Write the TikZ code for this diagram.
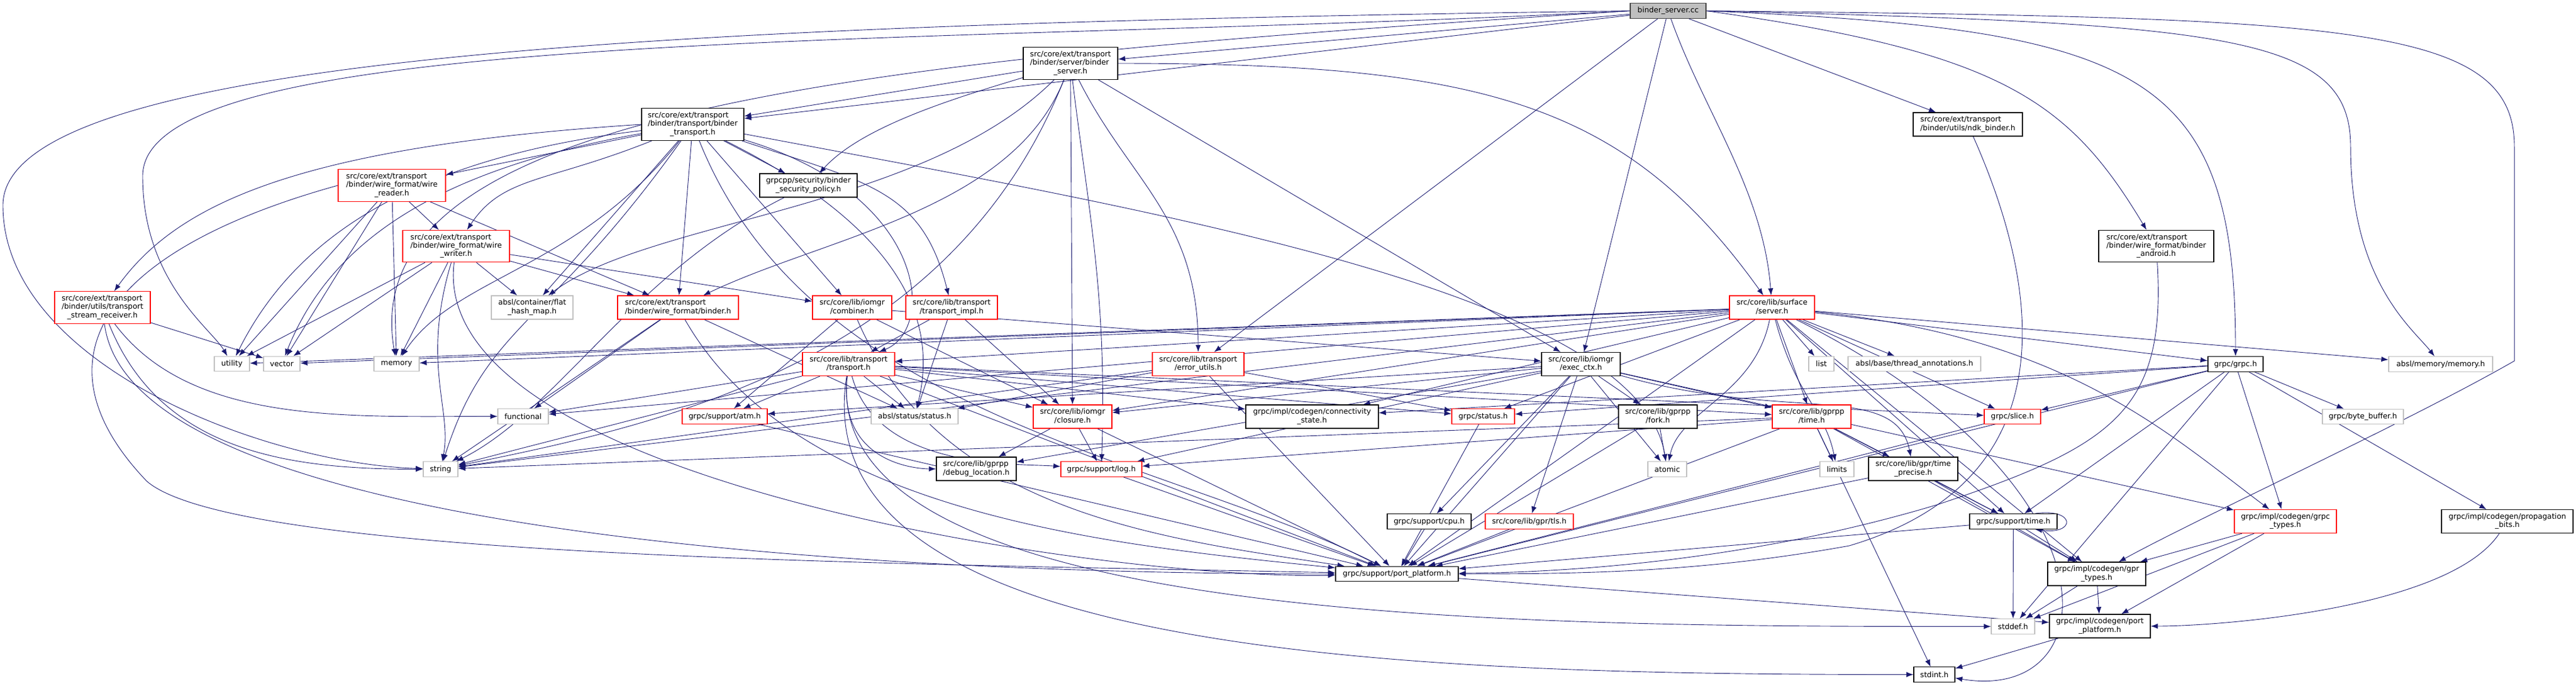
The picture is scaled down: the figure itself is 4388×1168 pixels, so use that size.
\documentclass[tikz,border=0pt]{standalone}
\usepackage{fontspec}
\setmainfont{DejaVu Sans}
\usepackage{tikz}
\usetikzlibrary{arrows.meta, backgrounds}
\definecolor{incBlue}{HTML}{191970}
\definecolor{truncRed}{HTML}{FF0000}
\definecolor{sysGray}{HTML}{BFBFBF}
\definecolor{rootGray}{HTML}{404040}
\newcommand{\hdr}[2]{\begin{tabular}{@{}l@{}}#1\\\multicolumn{1}{@{}c@{}}{#2}\end{tabular}}
\tikzset{
  hfile/.style={draw=black, line width=1.3pt, fill=white, inner sep=0pt, font=\fontsize{12.7}{14.3}\selectfont},
  hred/.style={hfile, draw=truncRed},
  hsys/.style={hfile, draw=sysGray},
  one/.style={minimum height=25.5pt},
  two/.style={minimum height=40pt},
  three/.style={minimum height=54.5pt},
  inc/.style={draw=incBlue, line width=0.9pt, -{Latex[length=12pt,width=9pt]}},
}

\begin{document}
\begin{tikzpicture}[x=1pt, y=-1pt]
  \useasboundingbox (0,0) rectangle (4388,1168);

  % rank 0 - 2
  \node[hfile, one, fill=sysGray, draw=rootGray, minimum width=129pt] (cc) at (2841.5,18.5) {binder\_server.cc};
  \node[hfile, three, minimum width=161pt] (bsrvh) at (1823.5,108) {\hdr{src/core/ext/transport\\/binder/server/binder}{\_server.h}};
  \node[hfile, three, minimum width=174pt] (btrans) at (1180,212) {\hdr{src/core/ext/transport\\/binder/transport/binder}{\_transport.h}};
  \node[hfile, two, minimum width=186pt] (ndk) at (3352,212) {\hdr{src/core/ext/transport}{/binder/utils/ndk\_binder.h}};

  % rank 3 - 5
  \node[hred, three, minimum width=183pt] (wreader) at (667.5,316) {\hdr{src/core/ext/transport\\/binder/wire\_format/wire}{\_reader.h}};
  \node[hfile, two, minimum width=166pt] (secpol) at (1377,316) {\hdr{grpcpp/security/binder}{\_security\_policy.h}};
  \node[hred, three, minimum width=182pt] (wwriter) at (777,419.5) {\hdr{src/core/ext/transport\\/binder/wire\_format/wire}{\_writer.h}};
  \node[hfile, three, minimum width=196pt] (bandroid) at (3673,419.5) {\hdr{src/core/ext/transport\\/binder/wire\_format/binder}{\_android.h}};
  \node[hred, three, minimum width=163pt] (tsrecv) at (174.5,524) {\hdr{src/core/ext/transport\\/binder/utils/transport}{\_stream\_receiver.h}};
  \node[hsys, two, minimum width=139pt] (flathash) at (906.5,524) {\hdr{absl/container/flat}{\_hash\_map.h}};
  \node[hred, two, minimum width=206pt] (wfbinder) at (1155,524) {\hdr{src/core/ext/transport}{/binder/wire\_format/binder.h}};
  \node[hred, two, minimum width=135pt] (combiner) at (1451.5,524) {\hdr{src/core/lib/iomgr}{/combiner.h}};
  \node[hred, two, minimum width=156pt] (timpl) at (1621,524) {\hdr{src/core/lib/transport}{/transport\_impl.h}};
  \node[hred, two, minimum width=145pt] (server) at (3018.5,524) {\hdr{src/core/lib/surface}{/server.h}};

  % rank 6
  \node[hsys, one, minimum width=60pt] (utility) at (395,620) {utility};
  \node[hsys, one, minimum width=62pt] (vector) at (480,620) {vector};
  \node[hsys, one, minimum width=77pt] (memory) at (675.5,620) {memory};
  \node[hred, two, minimum width=157pt] (transport) at (1445.5,620.5) {\hdr{src/core/lib/transport}{/transport.h}};
  \node[hred, two, minimum width=156pt] (errutils) at (2041,620.5) {\hdr{src/core/lib/transport}{/error\_utils.h}};
  \node[hfile, two, minimum width=134pt] (execctx) at (2693,620.5) {\hdr{src/core/lib/iomgr}{/exec\_ctx.h}};
  \node[hsys, one, minimum width=43pt] (list) at (3102.5,620) {list};
  \node[hsys, one, minimum width=226pt] (threadann) at (3261,620) {absl/base/thread\_annotations.h};
  \node[hfile, one, minimum width=94pt] (grpch) at (3808,620.5) {grpc/grpc.h};
  \node[hsys, one, minimum width=177pt] (abslmem) at (4157.5,620.5) {absl/memory/memory.h};

  % rank 7
  \node[hsys, one, minimum width=86pt] (functional) at (891,709.5) {functional};
  \node[hred, one, minimum width=145pt] (atm) at (1234.5,709.5) {grpc/support/atm.h};
  \node[hsys, one, minimum width=148pt] (abslstatus) at (1558,709.5) {absl/status/status.h};
  \node[hred, two, minimum width=134pt] (closure) at (1827,710) {\hdr{src/core/lib/iomgr}{/closure.h}};
  \node[hfile, two, minimum width=226pt] (connstate) at (2235,710) {\hdr{grpc/impl/codegen/connectivity}{\_state.h}};
  \node[hred, one, minimum width=107pt] (grpcstatus) at (2526.5,709.5) {grpc/status.h};
  \node[hfile, two, minimum width=134pt] (fork) at (2824,710) {\hdr{src/core/lib/gprpp}{/fork.h}};
  \node[hred, two, minimum width=134pt] (gtime) at (3086,710) {\hdr{src/core/lib/gprpp}{/time.h}};
  \node[hred, one, minimum width=96pt] (slice) at (3428,710) {grpc/slice.h};
  \node[hsys, one, minimum width=138pt] (bytebuf) at (4025,710) {grpc/byte\_buffer.h};

  % rank 8
  \node[hsys, one, minimum width=59pt] (string) at (750.5,799.5) {string};
  \node[hfile, two, minimum width=136pt] (debugloc) at (1663,799) {\hdr{src/core/lib/gprpp}{/debug\_location.h}};
  \node[hred, one, minimum width=138pt] (log) at (1876,799.5) {grpc/support/log.h};
  \node[hsys, one, minimum width=66pt] (atomic) at (2840,799.5) {atomic};
  \node[hsys, one, minimum width=58pt] (limits) at (3129,799.5) {limits};
  \node[hfile, two, minimum width=152pt] (tprecise) at (3259,799) {\hdr{src/core/lib/gpr/time}{\_precise.h}};

  % rank 9 - 12
  \node[hfile, one, minimum width=143pt] (cpu) at (2434.5,888.5) {grpc/support/cpu.h};
  \node[hred, one, minimum width=150pt] (tls) at (2605,888.5) {src/core/lib/gpr/tls.h};
  \node[hfile, one, minimum width=149pt] (suptime) at (3429.5,888.5) {grpc/support/time.h};
  \node[hred, two, minimum width=174pt] (grpctypes) at (3893,888.5) {\hdr{grpc/impl/codegen/grpc}{\_types.h}};
  \node[hfile, two, minimum width=224pt] (propbits) at (4271,888.5) {\hdr{grpc/impl/codegen/propagation}{\_bits.h}};
  \node[hfile, one, minimum width=209pt] (portplat) at (2379.5,978) {grpc/support/port\_platform.h};
  \node[hfile, two, minimum width=167pt] (gprtypes) at (3571.5,978) {\hdr{grpc/impl/codegen/gpr}{\_types.h}};
  \node[hsys, one, minimum width=74pt] (stddef) at (3429,1067.5) {stddef.h};
  \node[hfile, two, minimum width=172pt] (cgport) at (3577,1067) {\hdr{grpc/impl/codegen/port}{\_platform.h}};
  \node[hfile, one, minimum width=70pt] (stdint) at (3295,1149.5) {stdint.h};

  \begin{scope}[on background layer]
    % binder_server.cc
    \draw[inc] (cc) -- (bsrvh);
    \draw[inc] (cc) -- (btrans);
    \draw[inc] (cc) -- (errutils);
    \draw[inc] (cc) -- (execctx);
    \draw[inc] (cc) -- (ndk);
    \draw[inc] (cc) .. controls +(60,170) and +(-15,-200) .. (server);
    \draw[inc] (cc.east) .. controls +(500,70) and +(-150,-250) .. (bandroid);
    \draw[inc] (cc.east) .. controls (3650,50) and (3808,120) .. (grpch);
    \draw[inc] (cc.east) .. controls (3800,40) and (4004,60) .. (4004,250) .. controls (4004,480) and (4110,560) .. (abslmem);
    \draw[inc] (cc.east) .. controls (4000,30) and (4283,40) .. (4283,250) -- (4283,615) .. controls (4100,720) and (3750,880) .. (gprtypes);
    \draw[inc] (cc.west) .. controls (1200,40) and (5,90) .. (5,350) .. controls (5,620) and (450,790) .. (string);
    \draw[inc] (cc.west) .. controls (1600,80) and (243,40) .. (243,300) .. controls (243,480) and (360,560) .. (utility);
    \draw[inc] (cc.west) .. controls (1500,100) and (600,180) .. (memory);

    % binder_server.h
    \draw[inc] (bsrvh) -- (btrans);
    \draw[inc] (bsrvh) .. controls +(-200,60) and +(90,-100) .. (secpol);
    \draw[inc] (bsrvh) .. controls +(-250,250) and +(200,-150) .. (flathash);
    \draw[inc] (bsrvh) .. controls +(-100,250) and +(250,-120) .. (wfbinder);
    \draw[inc] (bsrvh) .. controls +(700,0) and +(-250,-350) .. (server);
    \draw[inc] (bsrvh) .. controls +(100,200) and +(0,-250) .. (errutils);
    \draw[inc] (bsrvh) -- (execctx);
    \draw[inc] (bsrvh) -- (closure);
    \draw[inc] (bsrvh) .. controls +(30,250) and +(10,-300) .. (log);
    \draw[inc] (bsrvh) .. controls +(-200,500) and +(400,-80) .. (string);

    % binder_transport.h
    \draw[inc] (btrans) -- (wreader);
    \draw[inc] (btrans) .. controls +(-250,100) and +(80,-120) .. (wwriter);
    \draw[inc] (btrans.west) .. controls (500,250) and (300,350) .. (tsrecv);
    \draw[inc] (btrans) -- (secpol);
    \draw[inc] (btrans) -- (flathash);
    \draw[inc] (btrans) -- (wfbinder);
    \draw[inc] (btrans) -- (combiner);
    \draw[inc] (btrans) .. controls +(300,100) and +(-50,-200) .. (timpl);
    \draw[inc] (btrans) .. controls +(400,120) and +(150,-60) .. (transport);
    \draw[inc] (btrans) .. controls +(-500,60) and +(100,-200) .. (utility);
    \draw[inc] (btrans) .. controls +(-450,80) and +(80,-200) .. (vector);
    \draw[inc] (btrans) .. controls +(-200,250) and +(100,-150) .. (memory);
    \draw[inc] (btrans) .. controls +(-250,350) and +(80,-250) .. (string);
    \draw[inc] (btrans) .. controls +(800,150) and +(-50,-300) .. (atomic);
    \draw[inc] (btrans) .. controls +(200,500) and +(-400,-200) .. (portplat);
    \draw[inc] (btrans) .. controls +(300,150) and +(50,-200) .. (abslstatus);

    % wire_reader.h
    \draw[inc] (wreader) -- (wwriter);
    \draw[inc] (wreader) -- (wfbinder);
    \draw[inc] (wreader) -- (vector);
    \draw[inc] (wreader) -- (memory);
    \draw[inc] (wreader) -- (utility);
    \draw[inc] (wreader.west) .. controls (200,420) and (40,600) .. (250,820) .. controls (400,950) and (1500,960) .. (portplat);

    % wire_writer.h
    \draw[inc] (wwriter) -- (flathash);
    \draw[inc] (wwriter) -- (wfbinder);
    \draw[inc] (wwriter) -- (combiner);
    \draw[inc] (wwriter) -- (vector);
    \draw[inc] (wwriter) -- (memory);
    \draw[inc] (wwriter) -- (utility);
    \draw[inc] (wwriter) .. controls +(-60,200) and +(20,-100) .. (string);
    \draw[inc] (wwriter) .. controls +(-50,400) and +(-500,10) .. (portplat);

    % transport_stream_receiver.h
    \draw[inc] (tsrecv) -- (vector);
    \draw[inc] (tsrecv) .. controls +(150,200) and +(-300,0) .. (functional);
    \draw[inc] (tsrecv) .. controls +(100,250) and +(-250,0) .. (string);
    \draw[inc] (tsrecv) .. controls +(50,400) and +(-800,0) .. (portplat);

    \draw[inc] (secpol) .. controls +(-300,150) and +(200,-100) .. (string);

    % ndk_binder.h, binder_android.h
    \draw[inc] (ndk) .. controls (3480,500) and (3520,820) .. (3150,930) .. controls (2900,975) and (2700,978) .. (portplat);
    \draw[inc] (bandroid) .. controls (3690,700) and (3600,760) .. (3300,860) .. controls (3000,950) and (2700,975) .. (portplat);

    % wire_format/binder.h, combiner.h, transport_impl.h
    \draw[inc] (wfbinder) -- (functional);
    \draw[inc] (wfbinder) -- (string);
    \draw[inc] (wfbinder) -- (abslstatus);
    \draw[inc] (wfbinder) .. controls +(200,350) and +(-500,-50) .. (portplat);
    \draw[inc] (combiner) -- (atm);
    \draw[inc] (combiner) -- (closure);
    \draw[inc] (combiner) -- (execctx);
    \draw[inc] (combiner) .. controls +(150,350) and +(-400,-60) .. (portplat);
    \draw[inc] (timpl) -- (transport);
    \draw[inc] (timpl) -- (closure);
    \draw[inc] (timpl) -- (abslstatus);

    % surface/server.h
    \draw[inc] (server) -- (transport);
    \draw[inc] (server) -- (list);
    \draw[inc] (server) -- (threadann);
    \draw[inc] (server) -- (grpch);
    \draw[inc] (server) -- (abslmem);
    \draw[inc] (server) -- (memory);
    \draw[inc] (server) -- (functional);
    \draw[inc] (server) -- (utility);
    \draw[inc] (server) -- (vector);
    \draw[inc] (server) -- (string);
    \draw[inc] (server) -- (connstate);
    \draw[inc] (server) .. controls +(-30,150) and +(20,-100) .. (atomic);
    \draw[inc] (server) -- (gtime);
    \draw[inc] (server) -- (slice);
    \draw[inc] (server) .. controls +(500,50) and +(-200,-150) .. (grpctypes);
    \draw[inc] (server) -- (closure);
    \draw[inc] (server) -- (grpcstatus);
    \draw[inc] (server) .. controls +(40,150) and +(-20,-100) .. (limits);
    \draw[inc] (server) -- (portplat);
    \draw[inc] (server) -- (suptime);
    \draw[inc] (server) -- (gprtypes);
    \draw[inc] (server) .. controls +(600,300) and +(300,50) .. (stdint);

    % transport.h
    \draw[inc] (transport) -- (functional);
    \draw[inc] (transport) -- (string);
    \draw[inc] (transport) -- (atm);
    \draw[inc] (transport) -- (abslstatus);
    \draw[inc] (transport) -- (closure);
    \draw[inc] (transport) .. controls +(-20,180) and +(-80,0) .. (debugloc);
    \draw[inc] (transport) .. controls +(50,180) and +(-150,-10) .. (log);
    \draw[inc] (transport) -- (connstate);
    \draw[inc] (transport) -- (grpcstatus);
    \draw[inc] (transport) -- (gtime);
    \draw[inc] (transport) -- (slice);
    \draw[inc] (transport) -- (portplat);
    \draw[inc] (transport) .. controls +(-50,450) and +(-800,0) .. (stddef);
    \draw[inc] (transport) .. controls +(-80,500) and +(-900,0) .. (stdint);

    % error_utils.h
    \draw[inc] (errutils) -- (grpcstatus);
    \draw[inc] (errutils) -- (abslstatus);
    \draw[inc] (errutils) -- (string);
    \draw[inc] (errutils) -- (portplat);

    % exec_ctx.h
    \draw[inc] (execctx) -- (closure);
    \draw[inc] (execctx) -- (debugloc);
    \draw[inc] (execctx) -- (fork);
    \draw[inc] (execctx) -- (gtime);
    \draw[inc] (execctx) -- (atomic);
    \draw[inc] (execctx) -- (cpu);
    \draw[inc] (execctx) -- (tls);
    \draw[inc] (execctx) -- (log);
    \draw[inc] (execctx) -- (atm);
    \draw[inc] (execctx) -- (portplat);
    \draw[inc] (execctx) -- (grpctypes);
    \draw[inc] (execctx) .. controls +(350,100) and +(-30,-150) .. (tprecise);

    \draw[inc] (closure) -- (debugloc);
    \draw[inc] (closure) -- (log);
    \draw[inc] (closure) -- (portplat);
    \draw[inc] (fork) -- (atomic);
    \draw[inc] (fork) -- (portplat);

    % gprpp/time.h
    \draw[inc] (gtime) -- (limits);
    \draw[inc] (gtime) -- (tprecise);
    \draw[inc] (gtime) -- (suptime);
    \draw[inc] (gtime) -- (gprtypes);
    \draw[inc] (gtime) -- (portplat);
    \draw[inc] (gtime) -- (log);
    \draw[inc] (gtime) -- (string);
    \draw[inc] (gtime) -- (stdint);

    % grpc/grpc.h
    \draw[inc] (grpch) -- (slice);
    \draw[inc] (grpch) -- (bytebuf);
    \draw[inc] (grpch) -- (grpctypes);
    \draw[inc] (grpch) -- (propbits);
    \draw[inc] (grpch) -- (suptime);
    \draw[inc] (grpch) -- (portplat);
    \draw[inc] (grpch) -- (stddef);
    \draw[inc] (grpch) -- (grpcstatus);
    \draw[inc] (grpch) -- (connstate);

    % leaves
    \draw[inc] (log) -- (portplat);
    \draw[inc] (atm) -- (portplat);
    \draw[inc] (grpcstatus) -- (portplat);
    \draw[inc] (cpu) -- (portplat);
    \draw[inc] (tls) -- (portplat);
    \draw[inc] (slice) -- (portplat);
    \draw[inc] (tprecise) -- (suptime);
    \draw[inc] (tprecise) -- (gprtypes);
    \draw[inc] (tprecise) -- (portplat);
    \draw[inc] (suptime) -- (stddef);
    \draw[inc] (suptime) -- (gprtypes);
    \draw[inc] (suptime) -- (portplat);
    \draw[inc] (suptime.20) .. controls +(70,-10) and +(70,10) .. (suptime.-20);
    \draw[inc] (gprtypes) -- (stddef);
    \draw[inc] (gprtypes) -- (cgport);
    \draw[inc] (grpctypes) -- (gprtypes);
    \draw[inc] (grpctypes) -- (stddef);
    \draw[inc] (grpctypes) -- (cgport);
    \draw[inc] (propbits) .. controls +(-100,150) and +(200,0) .. (cgport);
    \draw[inc] (portplat) -- (cgport);
    \draw[inc] (cgport) -- (stdint);
  \end{scope}
\end{tikzpicture}
\end{document}
